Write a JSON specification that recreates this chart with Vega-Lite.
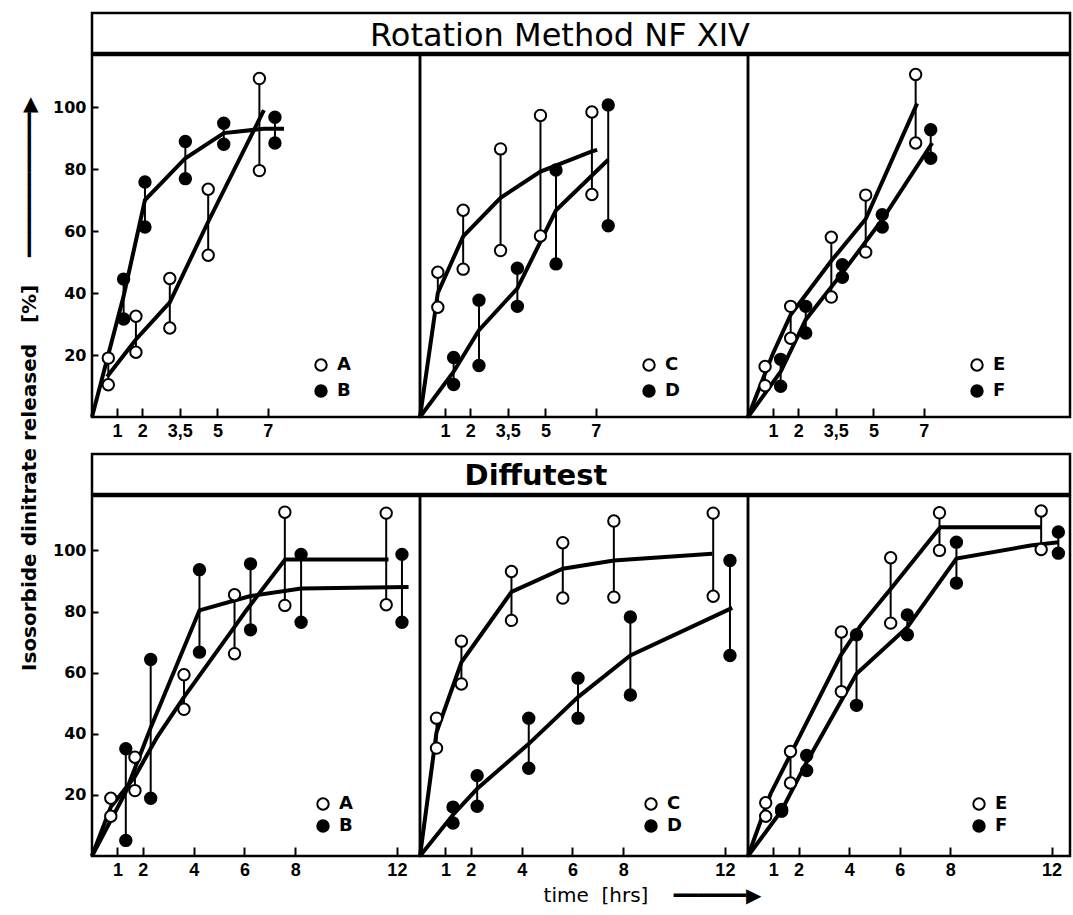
{
  "$schema": "https://vega.github.io/schema/vega-lite/v6.json",
  "background": "white",
  "padding": {"left": 19, "top": 11, "right": 0, "bottom": 0},
  "datasets": {
    "pts": [
      {"p":"R1","s":"A","t":0.65,"lo":10.4,"hi":19.0},
      {"p":"R1","s":"A","t":1.75,"lo":20.9,"hi":32.5},
      {"p":"R1","s":"A","t":3.1,"lo":28.7,"hi":44.7},
      {"p":"R1","s":"A","t":4.63,"lo":52.2,"hi":73.5},
      {"p":"R1","s":"A","t":6.67,"lo":79.5,"hi":109.2},
      {"p":"R1","s":"B","t":1.26,"lo":31.6,"hi":44.5},
      {"p":"R1","s":"B","t":2.11,"lo":61.3,"hi":75.8},
      {"p":"R1","s":"B","t":3.72,"lo":76.9,"hi":88.9},
      {"p":"R1","s":"B","t":5.25,"lo":88.0,"hi":94.8},
      {"p":"R1","s":"B","t":7.29,"lo":88.4,"hi":96.7},
      {"p":"R2","s":"C","t":0.71,"lo":35.4,"hi":46.7},
      {"p":"R2","s":"C","t":1.72,"lo":47.7,"hi":66.7},
      {"p":"R2","s":"C","t":3.21,"lo":53.7,"hi":86.5},
      {"p":"R2","s":"C","t":4.8,"lo":58.4,"hi":97.3},
      {"p":"R2","s":"C","t":6.85,"lo":71.8,"hi":98.4},
      {"p":"R2","s":"D","t":1.34,"lo":10.5,"hi":19.2},
      {"p":"R2","s":"D","t":2.35,"lo":16.6,"hi":37.7},
      {"p":"R2","s":"D","t":3.88,"lo":35.7,"hi":48.0},
      {"p":"R2","s":"D","t":5.42,"lo":49.4,"hi":79.7},
      {"p":"R2","s":"D","t":7.5,"lo":61.7,"hi":100.7},
      {"p":"R3","s":"E","t":0.68,"lo":10.1,"hi":16.3},
      {"p":"R3","s":"E","t":1.7,"lo":25.4,"hi":35.7},
      {"p":"R3","s":"E","t":3.32,"lo":38.7,"hi":58.0},
      {"p":"R3","s":"E","t":4.69,"lo":53.2,"hi":71.6},
      {"p":"R3","s":"E","t":6.68,"lo":88.4,"hi":110.5},
      {"p":"R3","s":"F","t":1.3,"lo":9.9,"hi":18.6},
      {"p":"R3","s":"F","t":2.3,"lo":27.1,"hi":35.7},
      {"p":"R3","s":"F","t":3.76,"lo":45.1,"hi":49.1},
      {"p":"R3","s":"F","t":5.35,"lo":61.3,"hi":65.3},
      {"p":"R3","s":"F","t":7.28,"lo":83.5,"hi":92.7},
      {"p":"D1","s":"A","t":0.74,"lo":13.0,"hi":18.9},
      {"p":"D1","s":"A","t":1.69,"lo":21.4,"hi":32.3},
      {"p":"D1","s":"A","t":3.62,"lo":48.0,"hi":59.3},
      {"p":"D1","s":"A","t":5.61,"lo":66.2,"hi":85.5},
      {"p":"D1","s":"A","t":7.59,"lo":82.0,"hi":112.5},
      {"p":"D1","s":"A","t":11.58,"lo":82.2,"hi":112.2},
      {"p":"D1","s":"B","t":1.33,"lo":5.1,"hi":35.1},
      {"p":"D1","s":"B","t":2.31,"lo":18.9,"hi":64.3},
      {"p":"D1","s":"B","t":4.23,"lo":66.7,"hi":93.7},
      {"p":"D1","s":"B","t":6.24,"lo":74.0,"hi":95.6},
      {"p":"D1","s":"B","t":8.23,"lo":76.5,"hi":98.7},
      {"p":"D1","s":"B","t":12.2,"lo":76.5,"hi":98.7},
      {"p":"D2","s":"C","t":0.65,"lo":35.3,"hi":45.1},
      {"p":"D2","s":"C","t":1.63,"lo":56.3,"hi":70.3},
      {"p":"D2","s":"C","t":3.6,"lo":77.1,"hi":93.1},
      {"p":"D2","s":"C","t":5.62,"lo":84.4,"hi":102.5},
      {"p":"D2","s":"C","t":7.63,"lo":84.7,"hi":109.6},
      {"p":"D2","s":"C","t":11.54,"lo":85.0,"hi":112.2},
      {"p":"D2","s":"D","t":1.3,"lo":10.8,"hi":16.0},
      {"p":"D2","s":"D","t":2.25,"lo":16.3,"hi":26.3},
      {"p":"D2","s":"D","t":4.28,"lo":28.7,"hi":45.1},
      {"p":"D2","s":"D","t":6.22,"lo":45.1,"hi":58.2},
      {"p":"D2","s":"D","t":8.28,"lo":52.7,"hi":78.2},
      {"p":"D2","s":"D","t":12.2,"lo":65.6,"hi":96.7},
      {"p":"D3","s":"E","t":0.7,"lo":13.0,"hi":17.4},
      {"p":"D3","s":"E","t":1.68,"lo":23.9,"hi":34.2},
      {"p":"D3","s":"E","t":3.69,"lo":53.8,"hi":73.3},
      {"p":"D3","s":"E","t":5.64,"lo":76.2,"hi":97.6},
      {"p":"D3","s":"E","t":7.57,"lo":100.0,"hi":112.3},
      {"p":"D3","s":"E","t":11.59,"lo":100.3,"hi":112.9},
      {"p":"D3","s":"F","t":1.33,"lo":14.6,"hi":15.2},
      {"p":"D3","s":"F","t":2.32,"lo":28.0,"hi":32.9},
      {"p":"D3","s":"F","t":4.29,"lo":49.3,"hi":72.4},
      {"p":"D3","s":"F","t":6.3,"lo":72.4,"hi":78.9},
      {"p":"D3","s":"F","t":8.24,"lo":89.3,"hi":102.7},
      {"p":"D3","s":"F","t":12.27,"lo":99.1,"hi":106.0}
    ],
    "fit": [
      {"p":"R1","s":"A","t":0.6,"v":13},{"p":"R1","s":"A","t":1.75,"v":25},{"p":"R1","s":"A","t":3.1,"v":37},{"p":"R1","s":"A","t":4.63,"v":63},{"p":"R1","s":"A","t":6.85,"v":99},
      {"p":"R1","s":"B","t":0,"v":0},{"p":"R1","s":"B","t":1.26,"v":39},{"p":"R1","s":"B","t":2.11,"v":70},{"p":"R1","s":"B","t":3.72,"v":83.5},{"p":"R1","s":"B","t":5.25,"v":91.6},{"p":"R1","s":"B","t":6.85,"v":93},{"p":"R1","s":"B","t":7.65,"v":93},
      {"p":"R2","s":"C","t":0,"v":0},{"p":"R2","s":"C","t":0.71,"v":40},{"p":"R2","s":"C","t":1.72,"v":58.3},{"p":"R2","s":"C","t":3.21,"v":70.7},{"p":"R2","s":"C","t":4.8,"v":79.2},{"p":"R2","s":"C","t":6.85,"v":85.7},{"p":"R2","s":"C","t":7.06,"v":86.2},
      {"p":"R2","s":"D","t":0,"v":0},{"p":"R2","s":"D","t":1.34,"v":14.6},{"p":"R2","s":"D","t":2.35,"v":28},{"p":"R2","s":"D","t":3.88,"v":41.5},{"p":"R2","s":"D","t":5.42,"v":66.7},{"p":"R2","s":"D","t":7.5,"v":83},
      {"p":"R3","s":"E","t":0,"v":0},{"p":"R3","s":"E","t":0.97,"v":20},{"p":"R3","s":"E","t":1.7,"v":33},{"p":"R3","s":"E","t":3.32,"v":50.4},{"p":"R3","s":"E","t":4.69,"v":63.9},{"p":"R3","s":"E","t":6.74,"v":101.2},
      {"p":"R3","s":"F","t":0,"v":0},{"p":"R3","s":"F","t":1.3,"v":14.6},{"p":"R3","s":"F","t":2.3,"v":31.4},{"p":"R3","s":"F","t":3.76,"v":46.5},{"p":"R3","s":"F","t":5.35,"v":63.7},{"p":"R3","s":"F","t":7.34,"v":88.4},
      {"p":"D1","s":"A","t":0,"v":0},{"p":"D1","s":"A","t":0.74,"v":16},{"p":"D1","s":"A","t":1.69,"v":26},{"p":"D1","s":"A","t":2.57,"v":39},{"p":"D1","s":"A","t":3.62,"v":52},{"p":"D1","s":"A","t":5.61,"v":75},{"p":"D1","s":"A","t":6.04,"v":80},{"p":"D1","s":"A","t":7.6,"v":97},{"p":"D1","s":"A","t":11.67,"v":97},
      {"p":"D1","s":"B","t":0,"v":0},{"p":"D1","s":"B","t":1.33,"v":21},{"p":"D1","s":"B","t":2.31,"v":42},{"p":"D1","s":"B","t":4.23,"v":80.4},{"p":"D1","s":"B","t":6.2,"v":85},{"p":"D1","s":"B","t":8.23,"v":87.5},{"p":"D1","s":"B","t":12.46,"v":88},
      {"p":"D2","s":"C","t":0,"v":0},{"p":"D2","s":"C","t":0.65,"v":40.5},{"p":"D2","s":"C","t":1.63,"v":63.4},{"p":"D2","s":"C","t":3.6,"v":86.4},{"p":"D2","s":"C","t":5.62,"v":94},{"p":"D2","s":"C","t":7.63,"v":96.7},{"p":"D2","s":"C","t":11.5,"v":98.9},
      {"p":"D2","s":"D","t":0,"v":0},{"p":"D2","s":"D","t":1.3,"v":13.5},{"p":"D2","s":"D","t":2.25,"v":22},{"p":"D2","s":"D","t":4.28,"v":36.7},{"p":"D2","s":"D","t":6.22,"v":52},{"p":"D2","s":"D","t":8.28,"v":65.6},{"p":"D2","s":"D","t":12.29,"v":81.2},
      {"p":"D3","s":"E","t":0,"v":0},{"p":"D3","s":"E","t":0.89,"v":20.3},{"p":"D3","s":"E","t":3.66,"v":65.6},{"p":"D3","s":"E","t":4.45,"v":75.4},{"p":"D3","s":"E","t":5.64,"v":87.4},{"p":"D3","s":"E","t":7.6,"v":107.6},{"p":"D3","s":"E","t":11.6,"v":107.6},
      {"p":"D3","s":"F","t":0,"v":0},{"p":"D3","s":"F","t":1.33,"v":14.9},{"p":"D3","s":"F","t":2.32,"v":30.7},{"p":"D3","s":"F","t":4.29,"v":59.6},{"p":"D3","s":"F","t":6.3,"v":74.9},{"p":"D3","s":"F","t":8.24,"v":97.3},{"p":"D3","s":"F","t":11.17,"v":101.6},{"p":"D3","s":"F","t":12.27,"v":102.7}
    ]
  },
  "spacing": 10,
  "resolve": {"scale": {"fill": "independent", "x": "independent", "y": "independent"}},
  "hconcat": [
    {
      "width": 20, "height": 742,
      "view": {"stroke": null},
      "data": {"values": [{"ttl": "Isosorbide dinitrate released\u00a0\u00a0\u00a0[%]\u00a0\u00a0\u00a0\u00a0━━━━━━━━━━━━▶"}]},
      "mark": {"type": "text", "angle": 270, "align": "center", "baseline": "middle", "font": "DejaVu Sans", "fontWeight": "bold", "fontSize": 20, "color": "black"},
      "encoding": {"text": {"field": "ttl"}}
    },
    {
      "spacing": 10,
      "resolve": {"scale": {"fill": "independent", "x": "independent", "y": "independent"}},
      "vconcat": [
        {
          "spacing": -2.5,
          "resolve": {"scale": {"fill": "independent", "x": "independent", "y": "independent"}},
          "vconcat": [
            {
              "width": 978, "height": 40,
              "data": {"values": [{"h": "Rotation Method NF XIV", "yy": 100}]},
              "mark": {"type": "text", "font": "DejaVu Sans", "fontSize": 32, "dx": -21, "dy": 3, "color": "black"},
              "encoding": {"text": {"field": "h"}, "y": {"field": "yy", "type": "quantitative", "scale": {"domain": [0, 200]}, "axis": {"values": [100], "labelOpacity": 0, "ticks": false, "labelPadding": 6, "title": null}}}
            },
            {
              "spacing": 0,
              "bounds": "flush",
              "resolve": {"scale": {"fill": "independent", "x": "independent", "y": "independent"}},
              "hconcat": [
                {
                  "width": 328, "height": 362,
                  "encoding": {"x": {"field": "t", "type": "quantitative", "scale": {"domain": [0, 13.07], "nice": false}, "axis": {"values": [1, 2, 3.5, 5, 7], "labelExpr": "datum.value == 3.5 ? '3,5' : format(datum.value, 'd')", "title": null}}},
                  "layer": [
                    {"data": {"name": "fit"}, "transform": [{"filter": "datum.p == 'R1'"}],
                     "mark": {"type": "line", "color": "black", "strokeWidth": 4},
                     "encoding": {"y": {"field": "v", "type": "quantitative", "scale": {"domain": [0, 116.8], "nice": false}, "axis": {"values": [20, 40, 60, 80, 100], "title": null}}, "detail": {"field": "s"}}},
                    {"data": {"name": "pts"}, "transform": [{"filter": "datum.p == 'R1'"}],
                     "mark": {"type": "rule", "color": "black", "strokeWidth": 2},
                     "encoding": {"y": {"field": "lo", "type": "quantitative", "scale": {"domain": [0, 116.8], "nice": false}, "axis": {"values": [20, 40, 60, 80, 100], "title": null}}, "y2": {"field": "hi"}}},
                    {"data": {"name": "pts"}, "transform": [{"filter": "datum.p == 'R1'"}, {"fold": ["lo", "hi"], "as": ["k", "val"]}],
                     "mark": {"type": "point", "shape": "circle", "filled": true, "size": 130, "stroke": "black", "strokeWidth": 2, "opacity": 1},
                     "encoding": {"y": {"field": "val", "type": "quantitative", "scale": {"domain": [0, 116.8], "nice": false}, "axis": {"values": [20, 40, 60, 80, 100], "title": null}},
                       "fill": {"field": "s", "type": "nominal", "scale": {"domain": ["A", "B"], "range": ["white", "black"]}, "legend": {"legendX": 220, "legendY": 301}}}}
                  ]
                },
                {
                  "width": 328, "height": 362,
                  "encoding": {"x": {"field": "t", "type": "quantitative", "scale": {"domain": [0, 13.07], "nice": false}, "axis": {"values": [1, 2, 3.5, 5, 7], "labelExpr": "datum.value == 3.5 ? '3,5' : format(datum.value, 'd')", "title": null}}},
                  "layer": [
                    {"data": {"name": "fit"}, "transform": [{"filter": "datum.p == 'R2'"}],
                     "mark": {"type": "line", "color": "black", "strokeWidth": 4},
                     "encoding": {"y": {"field": "v", "type": "quantitative", "scale": {"domain": [0, 116.8], "nice": false}, "axis": null}, "detail": {"field": "s"}}},
                    {"data": {"name": "pts"}, "transform": [{"filter": "datum.p == 'R2'"}],
                     "mark": {"type": "rule", "color": "black", "strokeWidth": 2},
                     "encoding": {"y": {"field": "lo", "type": "quantitative", "scale": {"domain": [0, 116.8], "nice": false}, "axis": null}, "y2": {"field": "hi"}}},
                    {"data": {"name": "pts"}, "transform": [{"filter": "datum.p == 'R2'"}, {"fold": ["lo", "hi"], "as": ["k", "val"]}],
                     "mark": {"type": "point", "shape": "circle", "filled": true, "size": 130, "stroke": "black", "strokeWidth": 2, "opacity": 1},
                     "encoding": {"y": {"field": "val", "type": "quantitative", "scale": {"domain": [0, 116.8], "nice": false}, "axis": null},
                       "fill": {"field": "s", "type": "nominal", "scale": {"domain": ["C", "D"], "range": ["white", "black"]}, "legend": {"legendX": 220, "legendY": 301}}}}
                  ]
                },
                {
                  "width": 322, "height": 362,
                  "encoding": {"x": {"field": "t", "type": "quantitative", "scale": {"domain": [0, 12.83], "nice": false}, "axis": {"values": [1, 2, 3.5, 5, 7], "labelExpr": "datum.value == 3.5 ? '3,5' : format(datum.value, 'd')", "title": null}}},
                  "layer": [
                    {"data": {"name": "fit"}, "transform": [{"filter": "datum.p == 'R3'"}],
                     "mark": {"type": "line", "color": "black", "strokeWidth": 4},
                     "encoding": {"y": {"field": "v", "type": "quantitative", "scale": {"domain": [0, 116.8], "nice": false}, "axis": null}, "detail": {"field": "s"}}},
                    {"data": {"name": "pts"}, "transform": [{"filter": "datum.p == 'R3'"}],
                     "mark": {"type": "rule", "color": "black", "strokeWidth": 2},
                     "encoding": {"y": {"field": "lo", "type": "quantitative", "scale": {"domain": [0, 116.8], "nice": false}, "axis": null}, "y2": {"field": "hi"}}},
                    {"data": {"name": "pts"}, "transform": [{"filter": "datum.p == 'R3'"}, {"fold": ["lo", "hi"], "as": ["k", "val"]}],
                     "mark": {"type": "point", "shape": "circle", "filled": true, "size": 130, "stroke": "black", "strokeWidth": 2, "opacity": 1},
                     "encoding": {"y": {"field": "val", "type": "quantitative", "scale": {"domain": [0, 116.8], "nice": false}, "axis": null},
                       "fill": {"field": "s", "type": "nominal", "scale": {"domain": ["E", "F"], "range": ["white", "black"]}, "legend": {"legendX": 220, "legendY": 301}}}}
                  ]
                }
              ]
            }
          ]
        },
        {
          "spacing": -2.5,
          "resolve": {"scale": {"fill": "independent", "x": "independent", "y": "independent"}},
          "vconcat": [
            {
              "width": 978, "height": 40,
              "data": {"values": [{"h": "Diffutest", "yy": 100}]},
              "mark": {"type": "text", "font": "DejaVu Sans", "fontSize": 29, "fontWeight": "bold", "dx": -45, "dy": 2, "color": "black"},
              "encoding": {"text": {"field": "h"}, "y": {"field": "yy", "type": "quantitative", "scale": {"domain": [0, 200]}, "axis": {"values": [100], "labelOpacity": 0, "ticks": false, "labelPadding": 6, "title": null}}}
            },
            {
              "spacing": 0,
              "bounds": "flush",
              "resolve": {"scale": {"fill": "independent", "x": "independent", "y": "independent"}},
              "hconcat": [
                {
                  "width": 328, "height": 360,
                  "encoding": {"x": {"field": "t", "type": "quantitative", "scale": {"domain": [0, 12.91], "nice": false}, "axis": {"values": [1, 2, 4, 6, 8, 12], "title": null}}},
                  "layer": [
                    {"data": {"name": "fit"}, "transform": [{"filter": "datum.p == 'D1'"}],
                     "mark": {"type": "line", "color": "black", "strokeWidth": 4},
                     "encoding": {"y": {"field": "v", "type": "quantitative", "scale": {"domain": [0, 117.8], "nice": false}, "axis": {"values": [20, 40, 60, 80, 100], "title": null}}, "detail": {"field": "s"}}},
                    {"data": {"name": "pts"}, "transform": [{"filter": "datum.p == 'D1'"}],
                     "mark": {"type": "rule", "color": "black", "strokeWidth": 2},
                     "encoding": {"y": {"field": "lo", "type": "quantitative", "scale": {"domain": [0, 117.8], "nice": false}, "axis": {"values": [20, 40, 60, 80, 100], "title": null}}, "y2": {"field": "hi"}}},
                    {"data": {"name": "pts"}, "transform": [{"filter": "datum.p == 'D1'"}, {"fold": ["lo", "hi"], "as": ["k", "val"]}],
                     "mark": {"type": "point", "shape": "circle", "filled": true, "size": 130, "stroke": "black", "strokeWidth": 2, "opacity": 1},
                     "encoding": {"y": {"field": "val", "type": "quantitative", "scale": {"domain": [0, 117.8], "nice": false}, "axis": {"values": [20, 40, 60, 80, 100], "title": null}},
                       "fill": {"field": "s", "type": "nominal", "scale": {"domain": ["A", "B"], "range": ["white", "black"]}, "legend": {"legendX": 222, "legendY": 299, "rowPadding": 2}}}}
                  ]
                },
                {
                  "width": 328, "height": 360,
                  "encoding": {"x": {"field": "t", "type": "quantitative", "scale": {"domain": [0, 12.91], "nice": false}, "axis": {"values": [1, 2, 4, 6, 8, 12], "title": "time\u00a0\u00a0[hrs]\u00a0\u00a0\u00a0\u00a0━━━━━━▶", "titleX": 232, "titlePadding": 6, "titleFontWeight": "normal", "titleFontSize": 20}}},
                  "layer": [
                    {"data": {"name": "fit"}, "transform": [{"filter": "datum.p == 'D2'"}],
                     "mark": {"type": "line", "color": "black", "strokeWidth": 4},
                     "encoding": {"y": {"field": "v", "type": "quantitative", "scale": {"domain": [0, 117.8], "nice": false}, "axis": null}, "detail": {"field": "s"}}},
                    {"data": {"name": "pts"}, "transform": [{"filter": "datum.p == 'D2'"}],
                     "mark": {"type": "rule", "color": "black", "strokeWidth": 2},
                     "encoding": {"y": {"field": "lo", "type": "quantitative", "scale": {"domain": [0, 117.8], "nice": false}, "axis": null}, "y2": {"field": "hi"}}},
                    {"data": {"name": "pts"}, "transform": [{"filter": "datum.p == 'D2'"}, {"fold": ["lo", "hi"], "as": ["k", "val"]}],
                     "mark": {"type": "point", "shape": "circle", "filled": true, "size": 130, "stroke": "black", "strokeWidth": 2, "opacity": 1},
                     "encoding": {"y": {"field": "val", "type": "quantitative", "scale": {"domain": [0, 117.8], "nice": false}, "axis": null},
                       "fill": {"field": "s", "type": "nominal", "scale": {"domain": ["C", "D"], "range": ["white", "black"]}, "legend": {"legendX": 222, "legendY": 299, "rowPadding": 2}}}}
                  ]
                },
                {
                  "width": 322, "height": 360,
                  "encoding": {"x": {"field": "t", "type": "quantitative", "scale": {"domain": [0, 12.73], "nice": false}, "axis": {"values": [1, 2, 4, 6, 8, 12], "title": null}}},
                  "layer": [
                    {"data": {"name": "fit"}, "transform": [{"filter": "datum.p == 'D3'"}],
                     "mark": {"type": "line", "color": "black", "strokeWidth": 4},
                     "encoding": {"y": {"field": "v", "type": "quantitative", "scale": {"domain": [0, 117.8], "nice": false}, "axis": null}, "detail": {"field": "s"}}},
                    {"data": {"name": "pts"}, "transform": [{"filter": "datum.p == 'D3'"}],
                     "mark": {"type": "rule", "color": "black", "strokeWidth": 2},
                     "encoding": {"y": {"field": "lo", "type": "quantitative", "scale": {"domain": [0, 117.8], "nice": false}, "axis": null}, "y2": {"field": "hi"}}},
                    {"data": {"name": "pts"}, "transform": [{"filter": "datum.p == 'D3'"}, {"fold": ["lo", "hi"], "as": ["k", "val"]}],
                     "mark": {"type": "point", "shape": "circle", "filled": true, "size": 130, "stroke": "black", "strokeWidth": 2, "opacity": 1},
                     "encoding": {"y": {"field": "val", "type": "quantitative", "scale": {"domain": [0, 117.8], "nice": false}, "axis": null},
                       "fill": {"field": "s", "type": "nominal", "scale": {"domain": ["E", "F"], "range": ["white", "black"]}, "legend": {"legendX": 222, "legendY": 299, "rowPadding": 2}}}}
                  ]
                }
              ]
            }
          ]
        }
      ]
    }
  ],
  "config": {
    "view": {"stroke": "black", "strokeWidth": 2.5},
    "axis": {"grid": false, "domain": false, "tickColor": "black", "tickWidth": 2, "labelColor": "black", "titleColor": "black", "titleFont": "DejaVu Sans", "titleFontWeight": "bold", "titleFontSize": 17},
    "axisX": {"tickSize": -9, "labelPadding": 14, "labelFont": "Liberation Sans", "labelFontWeight": "bold", "labelFontSize": 18},
    "axisY": {"tickSize": -6, "labelPadding": 12, "labelFont": "DejaVu Sans", "labelFontWeight": "bold", "labelFontSize": 16},
    "legend": {"orient": "none", "title": null, "symbolType": "circle", "symbolSize": 130, "symbolStrokeColor": "black", "symbolStrokeWidth": 2, "labelFont": "DejaVu Sans", "labelFontWeight": "bold", "labelFontSize": 18, "labelColor": "black", "labelOffset": 7, "rowPadding": 6, "padding": 0}
  }
}
